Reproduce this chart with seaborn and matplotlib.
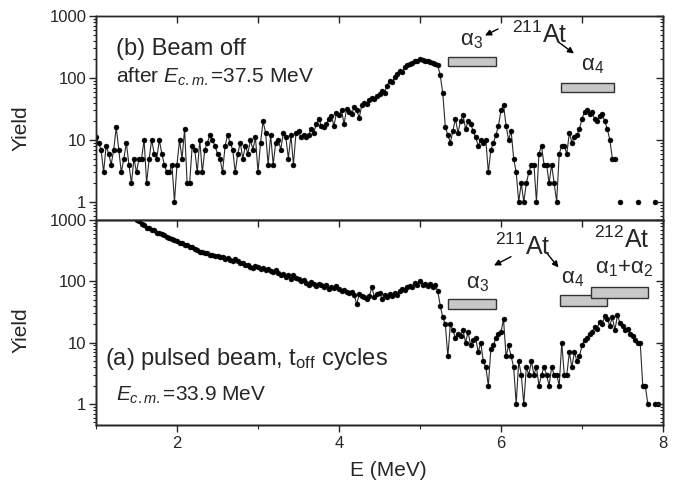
import numpy as np
import pandas as pd
import matplotlib
matplotlib.use("Agg")
import matplotlib.pyplot as plt
import seaborn as sns
from matplotlib.patches import Rectangle
from matplotlib.ticker import LogLocator, FixedLocator, FuncFormatter, NullFormatter

# ---------------- data ----------------
E_STEP = 0.03125          # channel width (MeV)
E_START_B = 1.0           # first channel of panel (b)
E_START_A = 1.46875       # first channel of panel (a)

# panel (b): beam off (0 = empty channel)
yield_b = [
    11, 9, 7, 3, 8, 6, 4, 7, 16, 7, 3, 5, 9, 4, 2, 5,
    3, 5, 5, 10, 2, 5, 10, 6, 5, 10, 6, 4, 3, 3, 4, 1,
    4, 10, 5, 15, 2, 2, 8, 7, 3, 10, 3, 7, 9, 12, 10, 8,
    6, 5, 3, 8, 12, 9, 7, 3, 6, 9, 5, 8, 6, 10, 7, 11,
    3, 9, 20, 13, 4, 12, 4, 9, 10, 7, 13, 11, 5, 12, 4, 13,
    14, 11, 12, 11, 12, 15, 13, 18, 22, 17, 16, 18, 22, 24, 17, 27,
    25, 30, 18, 32, 28, 26, 34, 30, 23, 36, 40, 38, 44, 48, 46, 52,
    55, 62, 58, 75, 90, 85, 105, 115, 130, 125, 150, 160, 170, 175, 190, 185,
    200, 195, 185, 190, 180, 175, 170, 160, 110, 57, 16, 12, 9, 14, 22, 13,
    20, 25, 15, 20, 18, 14, 11, 8, 10, 9, 10, 3, 7, 9, 12, 17,
    30, 37, 17, 10, 14, 5, 3, 1, 2, 1, 2, 3, 4, 4, 1, 6,
    8, 4, 4, 2, 4, 2, 1, 6, 8, 8, 6, 13, 9, 11, 12, 15,
    22, 28, 30, 26, 28, 22, 20, 24, 26, 20, 15, 10, 5, 5, 0, 1,
    0, 0, 0, 0, 0, 0, 1, 0, 0, 0, 0, 0, 0, 1, 0, 0,
    0,
]

# panel (a): pulsed beam, t_off cycles
yield_a = [
    1100,
    1000, 950, 860, 820, 750, 745, 700, 690, 625, 610, 585, 570, 535, 515, 495, 465,
    450, 420, 415, 390, 385, 365, 360, 335, 330, 305, 305, 285, 285, 265, 270, 255,
    255, 245, 250, 232, 236, 222, 212, 228, 215, 198, 202, 185, 188, 172, 168, 175,
    170, 160, 165, 155, 158, 150, 140, 152, 135, 128, 132, 118, 125, 110, 125, 112,
    108, 100, 104, 95, 88, 98, 90, 84, 92, 86, 80, 88, 76, 82, 78, 85,
    75, 70, 72, 68, 64, 66, 60, 42, 62, 58, 56, 52, 58, 80, 55, 62,
    65, 52, 60, 55, 62, 58, 64, 60, 70, 75, 72, 80, 85, 82, 95, 88,
    100, 88, 92, 84, 90, 80, 86, 70, 40, 26, 20, 6, 20, 16, 12, 14,
    13, 16, 10, 15, 9, 11, 12, 7, 10, 5, 4, 2, 8, 9, 12, 14,
    15, 24, 6, 9, 6, 4, 1, 5, 3, 1, 4, 3, 5, 3, 4, 2,
    3, 4, 3, 2, 4, 3, 3, 2, 10, 3, 3, 7, 4, 7, 5, 6,
    9, 11, 12, 14, 15, 18, 17, 22, 20, 27, 24, 19, 26, 16, 28, 21,
    19, 16, 17, 14, 13, 11, 10, 10, 2, 2, 1, 0, 0, 1, 1, 0,
    0,
]

# alpha-line boxes: (E_low, E_high, y_low, y_high)
boxes_b = [(5.35, 5.94, 155, 220), (6.74, 7.39, 59, 84)]
boxes_a = [(5.34, 5.94, 36, 52), (6.73, 7.31, 39, 60), (7.11, 7.81, 53, 81)]

# ---------------- style ----------------
sns.set_style("ticks")
plt.rcParams['font.family'] = ['Liberation Sans', 'DejaVu Sans']
plt.rcParams['mathtext.fontset'] = 'custom'
plt.rcParams['mathtext.rm'] = 'Liberation Sans'
plt.rcParams['mathtext.it'] = 'Liberation Sans:italic'
plt.rcParams['mathtext.bf'] = 'Liberation Sans:bold'
plt.rcParams['mathtext.sf'] = 'Liberation Sans'
plt.rcParams['axes.linewidth'] = 1.0

W, H = 675, 487
fig = plt.figure(figsize=(W / 100, H / 100), dpi=100)


def fp(x, y):
    return (x / W, 1 - y / H)


ax_b = fig.add_axes([96 / W, 1 - 220 / H, 567 / W, 204 / H])
ax_a = fig.add_axes([96 / W, 1 - 425 / H, 567 / W, 205 / H])


def make_df(start, vals):
    seg, s, prev = [], 0, False
    for v in vals:
        if v > 0:
            if not prev:
                s += 1
            seg.append(s)
            prev = True
        else:
            seg.append(0)
            prev = False
    df = pd.DataFrame({"E": start + E_STEP * np.arange(len(vals)),
                       "Y": vals, "seg": seg})
    return df[df.Y > 0]


for ax, start, vals, ylo in [(ax_b, E_START_B, yield_b, 0.51),
                             (ax_a, E_START_A, yield_a, 0.455)]:
    df = make_df(start, vals)
    sns.lineplot(data=df, x="E", y="Y", units="seg", estimator=None, sort=False,
                 color="#2a2a2a", lw=0.8, marker="o", markersize=3.6,
                 markerfacecolor="black", markeredgecolor="black",
                 markeredgewidth=0.3, ax=ax, legend=False)
    ax.set_yscale("log")
    ax.set_xlim(1, 8)
    ax.set_ylim(ylo, 1000)
    ax.set_xlabel("")
    ax.set_ylabel("")
    ax.yaxis.set_major_locator(LogLocator(base=10, numticks=10))
    ax.yaxis.set_minor_locator(LogLocator(base=10, subs=np.arange(2, 10), numticks=20))
    ax.yaxis.set_major_formatter(FuncFormatter(lambda v, p: f"{v:g}"))
    ax.yaxis.set_minor_formatter(NullFormatter())
    ax.tick_params(axis="y", which="major", direction="out", length=5, width=1,
                   left=True, right=False, labelsize=12, pad=2)
    ax.tick_params(axis="y", which="minor", direction="out", length=2.5, width=0.8,
                   left=True, right=False)
    for sp in ax.spines.values():
        sp.set_visible(True)
        sp.set_color("black")
    # right-hand ticks pointing inward
    tw = ax.twinx()
    tw.set_yscale("log")
    tw.set_ylim(ylo, 1000)
    tw.yaxis.set_major_locator(LogLocator(base=10, numticks=10))
    tw.yaxis.set_minor_locator(LogLocator(base=10, subs=np.arange(2, 10), numticks=20))
    tw.tick_params(axis="y", which="major", direction="in", length=5, width=1,
                   labelright=False)
    tw.tick_params(axis="y", which="minor", direction="in", length=2.5, width=0.8,
                   labelright=False)
    for rect in (boxes_b if ax is ax_b else boxes_a):
        x0, x1, y0, y1 = rect
        ax.add_patch(Rectangle((x0, y0), x1 - x0, y1 - y0, facecolor="#c8c8c8",
                               edgecolor="#333333", lw=1.0, zorder=3))

# x ticks
ax_b.xaxis.set_major_locator(FixedLocator(range(1, 9)))
ax_b.tick_params(axis="x", which="both", bottom=False, top=True, direction="in",
                 length=5, width=1, labelbottom=False, labeltop=False)

ax_a.xaxis.set_major_locator(FixedLocator([2, 4, 6, 8]))
ax_a.xaxis.set_minor_locator(FixedLocator([1, 3, 5, 7]))
ax_a.tick_params(axis="x", which="major", direction="out", length=5, width=1,
                 top=False, labelsize=12, pad=3)
ax_a.tick_params(axis="x", which="minor", direction="out", length=3, width=0.8, top=False)
ty = ax_a.twiny()
ty.set_xlim(1, 8)
ty.xaxis.set_major_locator(FixedLocator(range(1, 9)))
ty.tick_params(axis="x", which="both", direction="in", length=5, width=1, labeltop=False)

# axis labels
fig.text(*fp(21, 128), "Yield", rotation=90, ha="center", va="center", fontsize=15)
fig.text(*fp(21, 330), "Yield", rotation=90, ha="center", va="center", fontsize=15)
fig.text(*fp(388, 470), "E (MeV)", ha="center", va="center", fontsize=15)

# panel (b) annotations
fig.text(*fp(116, 55), "(b) Beam off", ha="left", va="baseline", fontsize=17)
fig.text(*fp(116, 83), "after $E_{c.m.}$=37.5 MeV", ha="left", va="baseline", fontsize=15)
fig.text(*fp(460, 45), "α$_3$", ha="left", va="baseline", fontsize=16)
fig.text(*fp(512, 43), "$^{211}$At", ha="left", va="baseline", fontsize=18)
fig.text(*fp(581, 70), "α$_4$", ha="left", va="baseline", fontsize=16)

# panel (a) annotations
fig.text(*fp(105, 365), "(a) pulsed beam, t$_\\mathrm{off}$ cycles", ha="left",
         va="baseline", fontsize=17)
fig.text(*fp(116, 401), "$E_{c.m.}$=33.9 MeV", ha="left", va="baseline", fontsize=15)
fig.text(*fp(495, 255), "$^{211}$At", ha="left", va="baseline", fontsize=18)
fig.text(*fp(594, 248), "$^{212}$At", ha="left", va="baseline", fontsize=18)
fig.text(*fp(595, 273), "α$_1$+α$_2$", ha="left", va="baseline", fontsize=16)
fig.text(*fp(466, 288), "α$_3$", ha="left", va="baseline", fontsize=16)
fig.text(*fp(561, 283), "α$_4$", ha="left", va="baseline", fontsize=16)

arrows = [((498, 29), (485, 35.5)), ((558, 41.7), (574, 53.5)),
          ((511, 256.7), (494, 265.5)), ((547, 253.3), (558.5, 267.5))]
for tail, head in arrows:
    ax_a.annotate("", xy=fp(*head), xytext=fp(*tail), xycoords="figure fraction",
                  textcoords="figure fraction",
                  arrowprops=dict(arrowstyle="-|>", color="black", lw=1.0,
                                  mutation_scale=9, shrinkA=0, shrinkB=0))

fig.savefig("out.png", dpi=100)
